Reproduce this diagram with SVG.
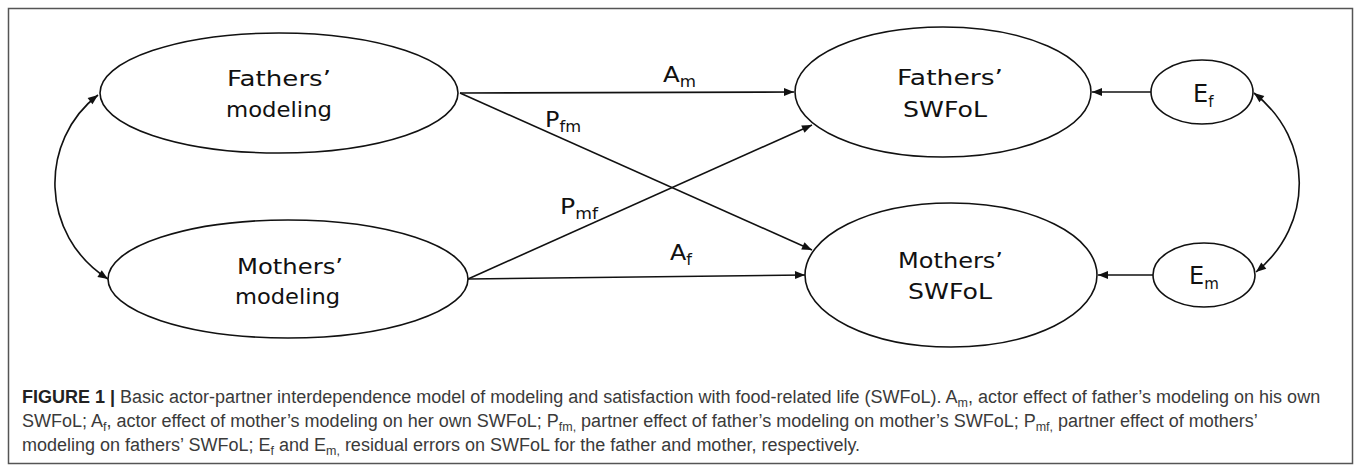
<svg xmlns="http://www.w3.org/2000/svg" width="1357" height="467" viewBox="0 0 1357 467">
<style>
.node ellipse{fill:#fff;stroke:#111;stroke-width:1.6}
.lbl{font-family:"DejaVu Sans",Verdana,sans-serif;font-size:22px;fill:#111}
.elbl{font-family:"DejaVu Sans",Verdana,sans-serif;font-size:24px;fill:#111}
.sub{font-size:15px}
.edge{fill:none;stroke:#111;stroke-width:1.6}
.cap{font-family:"Liberation Sans",Arial,sans-serif;font-size:18px;fill:#3a3a3a}
.csub{font-size:12.5px}
</style>
<defs>
<marker id="ah" viewBox="0 0 10 10" refX="10" refY="5" markerWidth="11" markerHeight="10" markerUnits="userSpaceOnUse" orient="auto-start-reverse">
<path d="M0,1 L10,5 L0,9 z" fill="#111"/>
</marker>
</defs>
<rect x="8.5" y="8.5" width="1344" height="455" fill="#fff" stroke="#555" stroke-width="1.5"/>
<g id="connectors">
<line class="edge" x1="460" y1="93" x2="794" y2="92" marker-end="url(#ah)"/>
<line class="edge" x1="460" y1="93" x2="812" y2="250" marker-end="url(#ah)"/>
<line class="edge" x1="468" y1="279" x2="812" y2="125" marker-end="url(#ah)"/>
<line class="edge" x1="468" y1="279" x2="805" y2="275" marker-end="url(#ah)"/>
<line class="edge" x1="1151" y1="92" x2="1092" y2="92" marker-end="url(#ah)"/>
<line class="edge" x1="1153" y1="275" x2="1098" y2="275" marker-end="url(#ah)"/>
<path class="edge" d="M98,95 C39,140 39,235 108,279" marker-start="url(#ah)" marker-end="url(#ah)"/>
<path class="edge" d="M1254,93 C1314,140 1314,225 1256,272" marker-start="url(#ah)" marker-end="url(#ah)"/>
<text class="lbl" x="663" y="82" textLength="33" lengthAdjust="spacingAndGlyphs">A<tspan class="sub" dy="5">m</tspan></text>
<text class="lbl" x="545" y="127" textLength="36" lengthAdjust="spacingAndGlyphs">P<tspan class="sub" dy="5">fm</tspan></text>
<text class="lbl" x="560" y="214" textLength="38" lengthAdjust="spacingAndGlyphs">P<tspan class="sub" dy="5">mf</tspan></text>
<text class="lbl" x="670" y="260" textLength="22" lengthAdjust="spacingAndGlyphs">A<tspan class="sub" dy="5">f</tspan></text>
</g>
<g id="fathers-modeling" class="node">
<ellipse cx="279" cy="93" rx="179" ry="60"/>
<text class="lbl" x="227" y="86" textLength="104" lengthAdjust="spacingAndGlyphs">Fathers’</text>
<text class="lbl" x="226" y="117" textLength="106" lengthAdjust="spacingAndGlyphs">modeling</text>
</g>
<g id="mothers-modeling" class="node">
<ellipse cx="288" cy="279" rx="180" ry="59"/>
<text class="lbl" x="237" y="274" textLength="106" lengthAdjust="spacingAndGlyphs">Mothers’</text>
<text class="lbl" x="235" y="304" textLength="105" lengthAdjust="spacingAndGlyphs">modeling</text>
</g>
<g id="fathers-swfol" class="node">
<ellipse cx="943" cy="92" rx="148" ry="65"/>
<text class="lbl" x="897" y="85" textLength="106" lengthAdjust="spacingAndGlyphs">Fathers’</text>
<text class="lbl" x="903" y="117" textLength="84" lengthAdjust="spacingAndGlyphs">SWFoL</text>
</g>
<g id="mothers-swfol" class="node">
<ellipse cx="951" cy="275" rx="146" ry="72"/>
<text class="lbl" x="898" y="268" textLength="105" lengthAdjust="spacingAndGlyphs">Mothers’</text>
<text class="lbl" x="908" y="299" textLength="84" lengthAdjust="spacingAndGlyphs">SWFoL</text>
</g>
<g id="ef" class="node">
<ellipse cx="1202" cy="92" rx="51" ry="32"/>
<text class="elbl" x="1193" y="102">E<tspan class="sub" dy="5">f</tspan></text>
</g>
<g id="em" class="node">
<ellipse cx="1204" cy="275" rx="51" ry="32"/>
<text class="elbl" x="1189" y="284">E<tspan class="sub" dy="5">m</tspan></text>
</g>
<g id="caption">
<text class="cap" x="22" y="403"><tspan font-weight="bold" fill="#222">FIGURE 1 |</tspan> Basic actor-partner interdependence model of modeling and satisfaction with food-related life (SWFoL). A<tspan class="csub" dy="3.5">m</tspan><tspan dy="-3.5">, actor effect of father’s modeling on his own</tspan></text>
<text class="cap" x="22" y="427">SWFoL; A<tspan class="csub" dy="3.5">f</tspan><tspan dy="-3.5">, actor effect of mother’s modeling on her own SWFoL; P</tspan><tspan class="csub" dy="3.5">fm,</tspan><tspan dy="-3.5"> partner effect of father’s modeling on mother’s SWFoL; P</tspan><tspan class="csub" dy="3.5">mf,</tspan><tspan dy="-3.5"> partner effect of mothers’</tspan></text>
<text class="cap" x="22" y="451">modeling on fathers’ SWFoL; E<tspan class="csub" dy="3.5">f</tspan><tspan dy="-3.5"> and E</tspan><tspan class="csub" dy="3.5">m,</tspan><tspan dy="-3.5"> residual errors on SWFoL for the father and mother, respectively.</tspan></text>
</g>
</svg>
